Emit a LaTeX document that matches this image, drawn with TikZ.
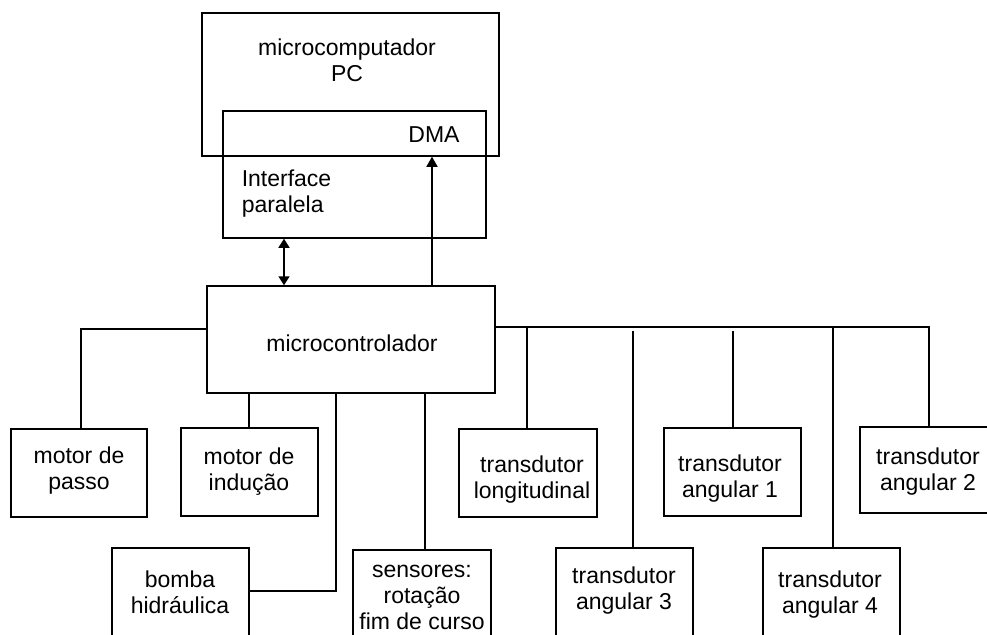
\documentclass[tikz,border=0pt]{standalone}
\usepackage{fontspec}
\setmainfont{Liberation Sans}
\usetikzlibrary{arrows.meta}
\begin{document}
\begin{tikzpicture}[x=0.5pt,y=-0.5pt,
  line width=0.75pt,
  box/.style={draw,line width=0.75pt,inner sep=0pt},
  txt/.style={inner sep=0pt,align=center,font=\fontsize{11.5pt}{13pt}\selectfont},
  link/.style={line width=0.75pt},
  arr/.style={line width=0.75pt,-{Triangle[width=5.5pt,length=5pt]}},
  dblarr/.style={line width=0.75pt,{Triangle[width=5.5pt,length=4.5pt]}-{Triangle[width=5.5pt,length=4.5pt]}}]
\clip (0,0) rectangle (987,634);
\fill[white] (0,0) rectangle (987,634);
% boxes (left, top, right, bottom)
\def\bx#1#2#3#4#5{\node[box,minimum width={(#4-#2)*0.5pt},minimum height={(#5-#3)*0.5pt}] (#1) at ({(#2+#4)/2},{(#3+#5)/2}) {};}
\bx{pc}{202}{13}{499}{156}
\bx{intf}{223}{111}{486}{238}
\bx{mc}{207}{286}{495}{393}
\bx{mp}{11}{429}{147}{517}
\bx{mi}{181}{428}{318}{516}
\bx{bh}{112}{548}{249}{650}
\bx{sen}{353}{550}{491}{650}
\bx{tl}{459}{429}{597}{517}
\bx{taiii}{556}{548}{693}{650}
\bx{tai}{664}{428}{801}{516}
\bx{taiv}{763}{548}{900}{650}
\bx{taii}{860}{427}{1000}{513}
% texts
\node[txt] (tpc) at (347,60) {microcomputador\\PC};
\node[txt] (tdma) at (434,135) {DMA};
\node[txt,align=left,anchor=west] (tif) at (241,194) {Interface\\paralela};
\node[txt] (tmc) at (352,343) {microcontrolador};
\node[txt] (tmp) at (79,471) {motor de\\passo};
\node[txt] (tmi) at (249,472) {motor de\\indução};
\node[txt] (tbh) at (180,592) {bomba\\hidráulica};
\node[txt] (tsen) at (422,597) {sensores:\\rotação\\fim de curso};
\node[txt] (ttl) at (532,480) {transdutor\\longitudinal};
\node[txt] (ttai) at (730,479) {transdutor\\angular 1};
\node[txt] (ttaii) at (928,472) {transdutor\\angular 2};
\node[txt] (ttaiii) at (624,591) {transdutor\\angular 3};
\node[txt] (ttaiv) at (830,595) {transdutor\\angular 4};
% connector coordinates
\coordinate (cdbl) at (284,0);
\coordinate (cdma) at (432,0);
\coordinate (cl) at (81,329);
\coordinate (cmi) at (249,0);
\coordinate (cbh) at (336,591);
\coordinate (csen) at (425,0);
\coordinate (cbus) at (929,327);
\coordinate (ctl) at (527,327);
\coordinate (ctaiii) at (633,331);
\coordinate (ctai) at (733,331);
\coordinate (ctaiv) at (833,327);
% connectors
\draw[dblarr] (intf.south -| cdbl) -- (mc.north -| cdbl);
\draw[arr] (mc.north -| cdma) -- (pc.south -| cdma);
\draw[link] (mc.west |- cl) -| (mp.north -| cl);
\draw[link] (mc.south -| cmi) -- (mi.north -| cmi);
\draw[link] (bh.east |- cbh) -| (mc.south -| cbh);
\draw[link] (mc.south -| csen) -- (sen.north -| csen);
\draw[link] (mc.east |- cbus) -| (taii.north -| cbus);
\draw[link] (ctl) -- (tl.north -| ctl);
\draw[link] (ctaiii) -- (taiii.north -| ctaiii);
\draw[link] (ctai) -- (tai.north -| ctai);
\draw[link] (ctaiv) -- (taiv.north -| ctaiv);
\end{tikzpicture}
\end{document}
